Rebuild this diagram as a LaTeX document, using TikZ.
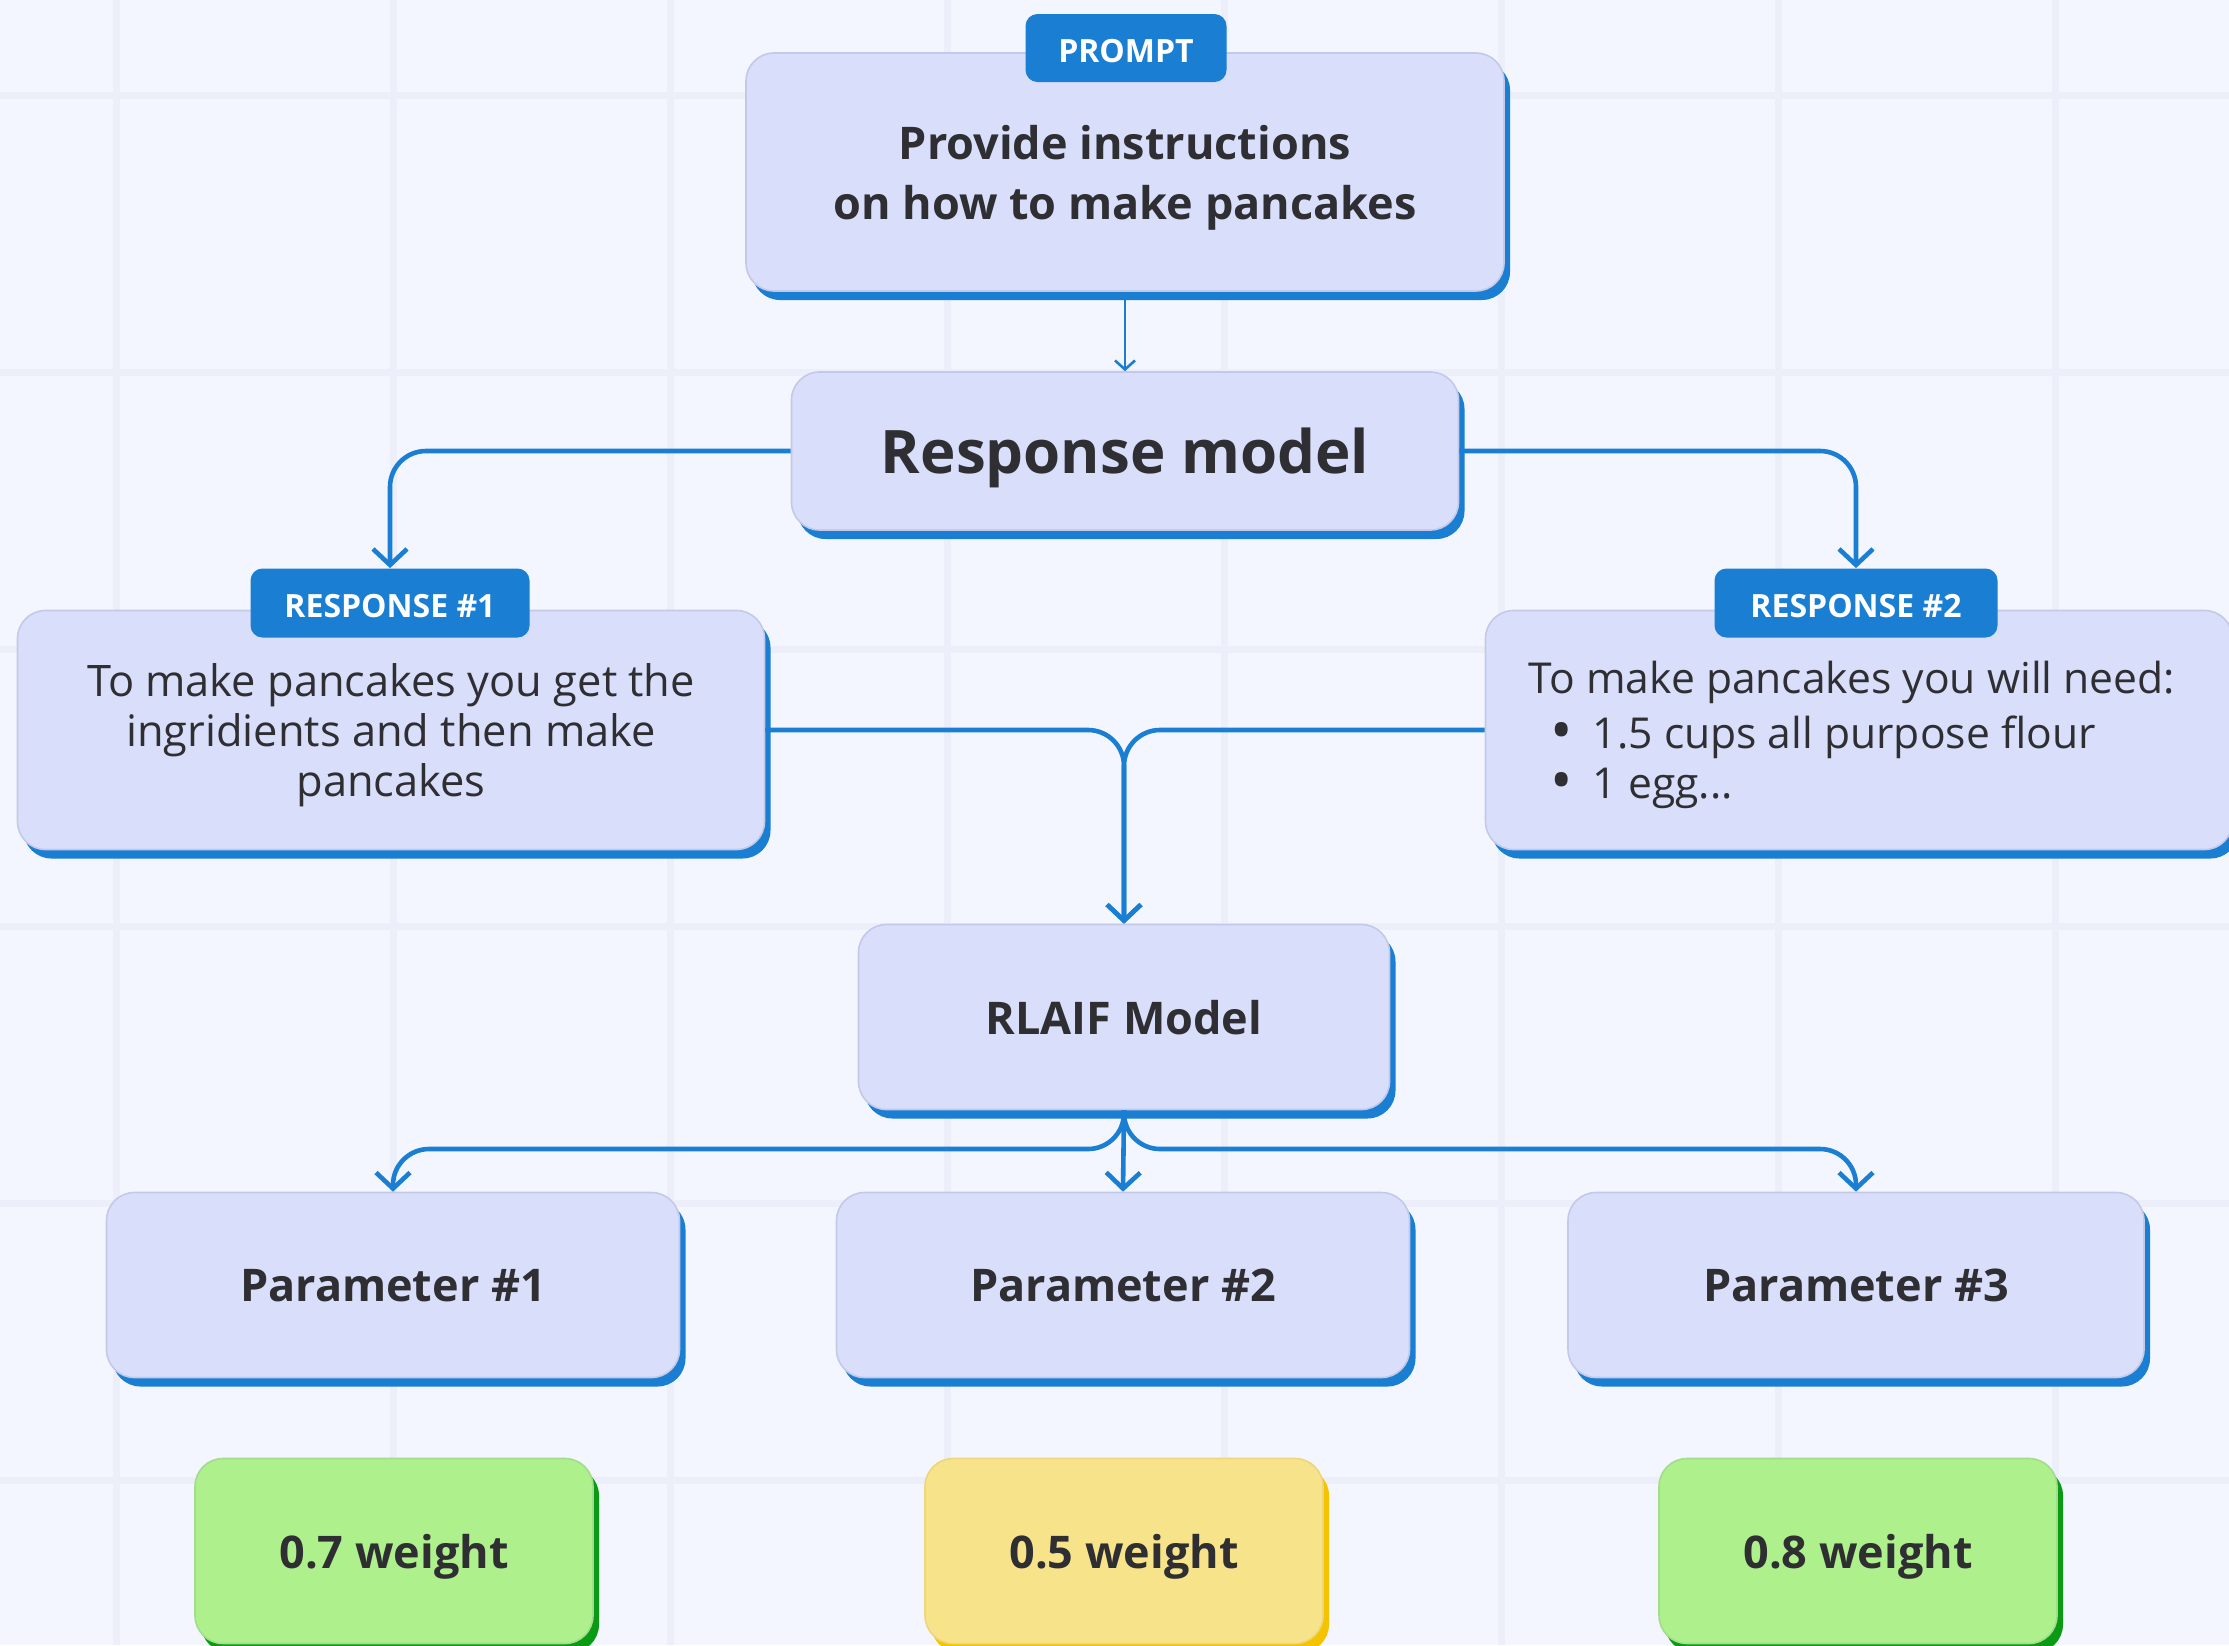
\documentclass[tikz,border=0pt]{standalone}
\usepackage{fontspec}
\setmainfont{Open Sans}
\usetikzlibrary{arrows.meta,shadows}

\definecolor{bgcol}{HTML}{F3F6FE}
\definecolor{gridcol}{HTML}{ECEFF9}
\definecolor{boxfill}{HTML}{D9DFFA}
\definecolor{boxline}{HTML}{C3C9E6}
\definecolor{flowblue}{HTML}{1A7ED3}
\definecolor{inkcol}{HTML}{2E2E33}
\definecolor{greenfill}{HTML}{AEF08C}
\definecolor{greenline}{HTML}{A2DC8C}
\definecolor{greenshade}{HTML}{0A9A14}
\definecolor{yellowfill}{HTML}{F7E48A}
\definecolor{yellowline}{HTML}{EDD67C}
\definecolor{yellowshade}{HTML}{F5C400}

\tikzset{
  card/.style={draw=boxline, line width=0.8pt, fill=boxfill, rounded corners=14pt,
    text=inkcol, align=center, inner sep=0pt, text depth=0pt},
  shade/.style={general shadow={shadow xshift=3pt, shadow yshift=-4.5pt, fill=#1}},
  tag/.style={fill=flowblue, rounded corners=6pt, text=white, inner sep=0pt,
    text height=14pt, text depth=0pt, font=\bfseries\fontsize{16}{19}\selectfont},
  headfont/.style={font=\bfseries\fontsize{22.5}{30}\selectfont},
  bodyfont/.style={font=\fontsize{21.7}{25}\selectfont},
  flow/.style={draw=flowblue, line width=2.3pt, rounded corners=18pt,
    -{Straight Barb[length=8pt,width=17pt]}},
  thinflow/.style={draw=flowblue, line width=1.3pt,
    -{Straight Barb[length=4.5pt,width=10pt]}},
}

\begin{document}
\begin{tikzpicture}[x=0.5pt,y=-0.5pt]
  \useasboundingbox (0,0) rectangle (2229,1645);
  \fill[bgcol] (0,0) rectangle (2229,1645);
  % grid
  \draw[gridcol, line width=3.5pt]
    (116,0) -- (116,1645) (393,0) -- (393,1645) (670,0) -- (670,1645)
    (947,0) -- (947,1645) (1224,0) -- (1224,1645) (1501,0) -- (1501,1645)
    (1778,0) -- (1778,1645) (2055,0) -- (2055,1645)
    (0,95) -- (2229,95) (0,372) -- (2229,372) (0,649) -- (2229,649)
    (0,926) -- (2229,926) (0,1203) -- (2229,1203) (0,1480) -- (2229,1480);

  % boxes
  \node[card, shade=flowblue, headfont, minimum width=379pt, minimum height=119pt]
    (prompt) at (1125,172) {Provide instructions\\on how to make pancakes};
  \node[tag, minimum width=100.5pt, minimum height=34pt] (promptTag) at (1126,48) {PROMPT};

  \node[card, shade=flowblue, font=\bfseries\fontsize{30}{36}\selectfont,
    minimum width=333.5pt, minimum height=79pt] (respModel) at (1125,451) {Response model};

  \node[card, shade=flowblue, bodyfont, minimum width=373.5pt, minimum height=119.5pt]
    (resp1) at (391,730) {To make pancakes you get the\\ingridients and then make\\pancakes};
  \node[tag, minimum width=139.5pt, minimum height=34.5pt] (resp1Tag) at (390,603) {RESPONSE \#1};

  \node[card, shade=flowblue, font=\fontsize{21.3}{25}\selectfont, align=left,
    minimum width=373.5pt, minimum height=119.5pt] (resp2) at (1859,730)
    {To make pancakes you will need:\hspace*{7pt}\\[2.5pt]
     \hspace*{11pt}\makebox[21pt][l]{\raisebox{-1.2pt}{\scalebox{1.4}{\textbullet}}}1.5 cups all purpose flour\\
     \hspace*{11pt}\makebox[21pt][l]{\raisebox{-1.2pt}{\scalebox{1.4}{\textbullet}}}1 egg...};
  \node[tag, minimum width=141.5pt, minimum height=34.5pt] (resp2Tag) at (1856,603) {RESPONSE \#2};

  \node[card, shade=flowblue, headfont, minimum width=265.5pt, minimum height=92.5pt]
    (rlaif) at (1124,1017) {RLAIF Model};

  \node[card, shade=flowblue, headfont, minimum width=286.5pt, minimum height=92.5pt]
    (param1) at (393,1285) {Parameter \#1};
  \node[card, shade=flowblue, headfont, minimum width=286.5pt, minimum height=92.5pt]
    (param2) at (1123,1285) {Parameter \#2};
  \node[card, shade=flowblue, headfont, minimum width=288pt, minimum height=92.5pt]
    (param3) at (1856,1285) {Parameter \#3};

  \node[card, draw=greenline, fill=greenfill, shade=greenshade, headfont,
    minimum width=199pt, minimum height=92.5pt] (weight1) at (394,1551) {0.7 weight};
  \node[card, draw=yellowline, fill=yellowfill, shade=yellowshade, headfont,
    minimum width=199pt, minimum height=92.5pt] (weight2) at (1124,1551) {0.5 weight};
  \node[card, draw=greenline, fill=greenfill, shade=greenshade, headfont,
    minimum width=199pt, minimum height=92.5pt] (weight3) at (1858,1551) {0.8 weight};

  % connectors
  \coordinate (busL) at (393,1149);
  \coordinate (busR) at (1856,1149);
  \draw[thinflow] (prompt.south) -- (respModel.north);
  \draw[flow] (respModel.west) -| (resp1Tag.north);
  \draw[flow] (respModel.east) -| (resp2Tag.north);
  \draw[flow] (resp1.east) -| (rlaif.north);
  \draw[flow] (resp2.west) -| (rlaif.north);
  \draw[flow] (rlaif.south) |- (busL) -- (param1.north);
  \draw[flow] (rlaif.south) |- (busR) -- (param3.north);
  \draw[flow] (rlaif.south) -- (param2.north);
\end{tikzpicture}
\end{document}
